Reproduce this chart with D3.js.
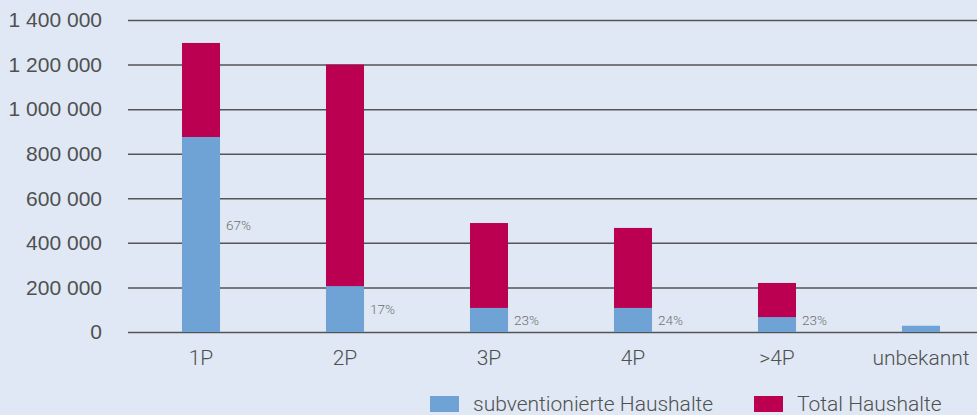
<!DOCTYPE html>
<html>
<head>
<meta charset="utf-8">
<script src="https://cdn.jsdelivr.net/npm/d3@7"></script>
<style>
  html, body { margin: 0; padding: 0; background: #dfe8f4; }
  svg { display: block; font-family: Roboto, sans-serif; }
</style>
</head>
<body>
<div id="chart"></div>
<script>
// data
const categories = ['1P', '2P', '3P', '4P', '>4P', 'unbekannt'];
const totalHaushalte = [1297000, 1200000, 489000, 467000, 220000, 0];
const subventioniert = [875000, 206000, 108000, 108000, 67000, 28000];
const percentLabels = ['67%', '17%', '23%', '24%', '23%', ''];
const yTicks = [0, 200000, 400000, 600000, 800000, 1000000, 1200000, 1400000];
const seriesNames = ['subventionierte Haushalte', 'Total Haushalte'];

const colors = { sub: '#6fa3d5', total: '#bb0052' };
const textColor = '#505050';

const width = 977, height = 415;
const svg = d3.select('#chart').append('svg')
  .attr('width', width).attr('height', height);

svg.append('rect').attr('width', width).attr('height', height).attr('fill', '#dfe8f4');

const y = d3.scaleLinear().domain([0, 1400000]).range([332, 20]);
const x = d3.scaleBand().domain(categories).range([129, 993])
  .paddingInner(0.736).paddingOuter(0.368);

const fmt = v => d3.format(',')(v).replace(/,/g, ' ');

// y axis with grid lines
const yAxis = svg.append('g')
  .attr('transform', 'translate(128,0)')
  .call(d3.axisRight(y).tickValues(yTicks).tickSize(width - 128).tickFormat(fmt));
yAxis.select('.domain').remove();
yAxis.selectAll('.tick line').attr('stroke', '#555').attr('stroke-width', 1.5);
yAxis.selectAll('.tick text')
  .attr('x', -26).attr('text-anchor', 'end')
  .attr('fill', textColor).attr('font-size', 21).attr('font-weight', 300);

// bars: total behind, subventioniert in front
const groups = svg.append('g').selectAll('g').data(categories).join('g');

groups.append('rect')
  .attr('x', d => x(d))
  .attr('width', x.bandwidth())
  .attr('y', (d, i) => y(totalHaushalte[i]))
  .attr('height', (d, i) => y(0) - y(totalHaushalte[i]))
  .attr('fill', colors.total);

groups.append('rect')
  .attr('x', d => x(d))
  .attr('width', x.bandwidth())
  .attr('y', (d, i) => y(subventioniert[i]))
  .attr('height', (d, i) => y(0) - y(subventioniert[i]))
  .attr('fill', colors.sub);

groups.append('text')
  .attr('x', d => x(d) + x.bandwidth() + 6)
  .attr('y', (d, i) => Math.min((y(subventioniert[i]) + y(0)) / 2, y(0) - 12) - (i === 0 ? 9 : 0))
  .attr('dy', '0.35em')
  .attr('font-size', 13.5)
  .attr('font-weight', 300)
  .attr('fill', '#707070')
  .text((d, i) => percentLabels[i]);

// x axis labels
const xAxis = svg.append('g')
  .attr('transform', 'translate(0,332)')
  .call(d3.axisBottom(x).tickSize(0).tickPadding(18));
xAxis.select('.domain').remove();
xAxis.selectAll('.tick text')
  .attr('fill', textColor).attr('font-size', 21).attr('font-weight', 300)
  .attr('font-family', 'Roboto, sans-serif');

// legend
const legend = svg.append('g').attr('transform', 'translate(430,396)');
const legendX = [0, 324];
[colors.sub, colors.total].forEach((c, i) => {
  const g = legend.append('g').attr('transform', `translate(${legendX[i]},0)`);
  g.append('rect').attr('width', 29).attr('height', 16).attr('fill', c);
  g.append('text').attr('x', 43).attr('y', 15)
    .attr('font-size', 21).attr('font-weight', 300).attr('fill', textColor)
    .text(seriesNames[i]);
});
</script>
</body>
</html>
